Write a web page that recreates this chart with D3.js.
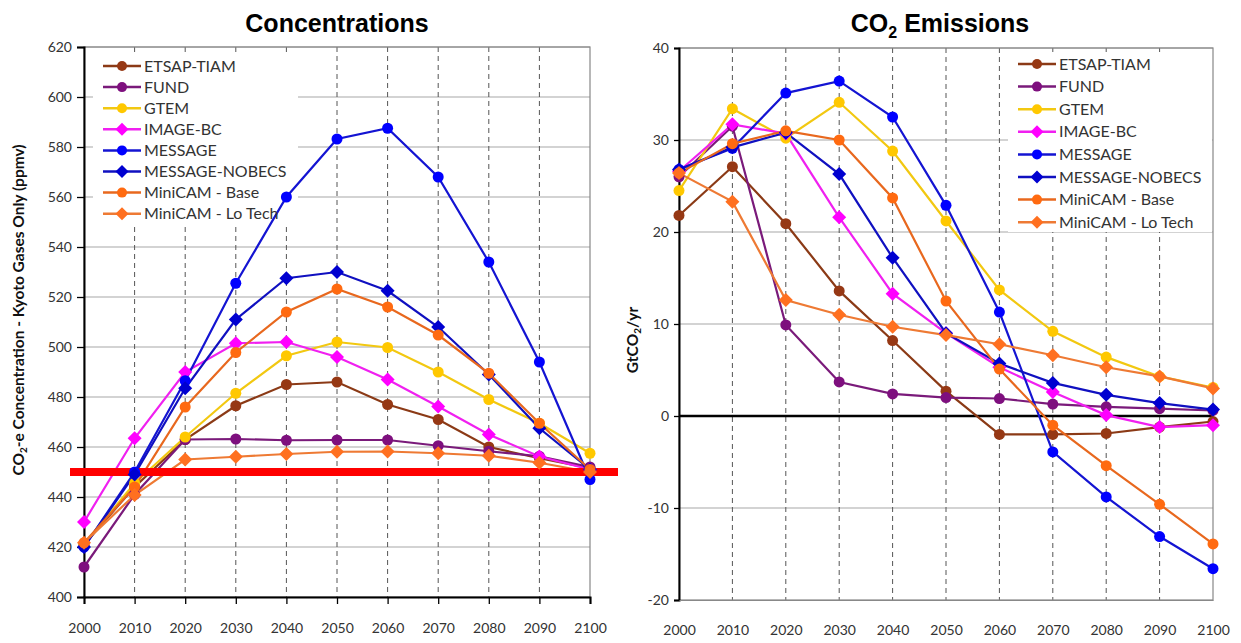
<!DOCTYPE html>
<html>
<head>
<meta charset="utf-8">
<script src="https://cdn.jsdelivr.net/npm/d3@7"></script>
<style>
  body { margin: 0; background: #fff; }
  text { font-family: Lato, "DejaVu Sans", sans-serif; }
</style>
</head>
<body>
<script>
// decades on the x axis
var years = [2000, 2010, 2020, 2030, 2040, 2050, 2060, 2070, 2080, 2090, 2100];

var models = ["ETSAP-TIAM", "FUND", "GTEM", "IMAGE-BC", "MESSAGE", "MESSAGE-NOBECS", "MiniCAM - Base", "MiniCAM - Lo Tech"];

// CO2-e concentrations (ppmv)
var concETSAP   = [421, 444, 463, 476.5, 485, 486, 477, 471, 460, 455.5, 451.5];
var concFUND    = [412, 441, 463, 463.2, 462.7, 462.8, 462.8, 460.5, 458.3, 456.3, 452];
var concGTEM    = [421, 445.5, 464, 481.5, 496.5, 502, 499.8, 490, 479, 469.5, 457.5];
var concIMAGE   = [430, 463.5, 490, 501.5, 502, 496, 487, 476.2, 465, 456.2, 451];
var concMESSAGE = [420, 450, 486.5, 525.5, 560, 583.2, 587.5, 568, 534, 494, 447];
var concNOBECS  = [420, 449, 483.5, 511, 527.5, 530, 522.5, 508, 489, 467.5, 451];
var concMiniB   = [421.7, 444, 476, 497.8, 514, 523.2, 516, 504.8, 489.5, 469.5, 451];
var concMiniLT  = [421.7, 440.8, 455, 456.1, 457.2, 458.1, 458.2, 457.5, 456.5, 453.7, 450];

// CO2 emissions (GtCO2/yr)
var emisETSAP   = [21.8, 27.1, 20.9, 13.6, 8.2, 2.7, -2.0, -2.0, -1.9, -1.2, -0.6];
var emisFUND    = [26.0, 31.5, 9.9, 3.7, 2.4, 2.0, 1.9, 1.3, 1.0, 0.8, 0.6];
var emisGTEM    = [24.5, 33.4, 30.2, 34.1, 28.8, 21.2, 13.7, 9.2, 6.4, 4.3, 3.1];
var emisIMAGE   = [26.6, 31.7, 30.7, 21.6, 13.3, 9.0, 5.3, 2.6, 0.1, -1.2, -1.0];
var emisMESSAGE = [26.8, 29.1, 35.1, 36.4, 32.5, 22.9, 11.3, -3.9, -8.8, -13.1, -16.6];
var emisNOBECS  = [26.8, 29.2, 30.8, 26.3, 17.2, 9.0, 5.7, 3.6, 2.3, 1.4, 0.7];
var emisMiniB   = [26.4, 29.6, 31.0, 30.0, 23.7, 12.5, 5.1, -1.0, -5.4, -9.6, -13.9];
var emisMiniLT  = [26.4, 23.3, 12.6, 11.0, 9.7, 8.8, 7.8, 6.6, 5.3, 4.3, 3.0];

var concTicks = [400, 420, 440, 460, 480, 500, 520, 540, 560, 580, 600, 620];
var emisTicks = [-20, -10, 0, 10, 20, 30, 40];
var targetConc = 450;

var lineColors   = ["#8b3a16", "#7a1a7a", "#f2c811", "#f020f0", "#1414d2", "#1010c0", "#e8681e", "#ee7a34"];
var markerColors = ["#963814", "#7e0f7e", "#ffc800", "#ff00ff", "#0000ff", "#0000d0", "#ff6a10", "#ff7020"];
var markerShapes = ["circle", "circle", "circle", "diamond", "circle", "diamond", "circle", "diamond"];

var concSeries = [concETSAP, concFUND, concGTEM, concIMAGE, concMESSAGE, concNOBECS, concMiniB, concMiniLT];
var emisSeries = [emisETSAP, emisFUND, emisGTEM, emisIMAGE, emisMESSAGE, emisNOBECS, emisMiniB, emisMiniLT];

var width = 1241, height = 643;
var svg = d3.select("body").append("svg")
    .attr("width", width)
    .attr("height", height);

function drawMarker(g, shape, x, y, color, size) {
    if (shape == "circle") {
        g.append("circle").attr("cx", x).attr("cy", y).attr("r", size).attr("fill", color);
    } else {
        let s = size + 1.5;
        g.append("path")
            .attr("d", `M${x},${y - s}L${x + s},${y}L${x},${y + s}L${x - s},${y}Z`)
            .attr("fill", color);
    }
}

function drawPanel(opts) {
    let x = d3.scaleLinear().domain([2000, 2100]).range([opts.left, opts.right]);
    let y = d3.scaleLinear().domain(opts.domain).range([opts.bottom, opts.top]);
    let g = svg.append("g");

    // horizontal grid
    g.append("g").selectAll("line")
        .data(opts.ticks.filter(t => t != opts.domain[0]))
        .join("line")
        .attr("x1", opts.left).attr("x2", opts.right)
        .attr("y1", d => y(d)).attr("y2", d => y(d))
        .attr("stroke", "#a8a8a8").attr("stroke-width", 1.2);

    // vertical dashed grid
    g.append("g").selectAll("line")
        .data(years.slice(1, -1))
        .join("line")
        .attr("x1", d => x(d)).attr("x2", d => x(d))
        .attr("y1", opts.top).attr("y2", opts.bottom)
        .attr("stroke", "#555").attr("stroke-width", 1)
        .attr("stroke-dasharray", "5,4");

    // frame
    g.append("rect")
        .attr("x", opts.left).attr("y", opts.top)
        .attr("width", opts.right - opts.left).attr("height", opts.bottom - opts.top)
        .attr("fill", "none").attr("stroke", "#888").attr("stroke-width", 1.2);

    // legend background hides the grid under it
    g.append("rect")
        .attr("x", opts.legend.x - 10).attr("y", opts.legend.y - 12)
        .attr("width", opts.legend.w).attr("height", opts.legend.h)
        .attr("fill", "#fff");

    if (opts.zero) {
        g.append("line")
            .attr("x1", opts.left).attr("x2", opts.right)
            .attr("y1", y(0)).attr("y2", y(0))
            .attr("stroke", "#000").attr("stroke-width", 2.6);
    }

    // y axis
    let yAxis = d3.axisLeft(y).tickValues(opts.ticks).tickSize(opts.yTick).tickPadding(5).tickFormat(d => String(d));
    let ya = g.append("g").attr("transform", `translate(${opts.left},0)`).call(yAxis);
    ya.select(".domain").attr("stroke", "#000").attr("stroke-width", 2);
    ya.selectAll(".tick line").attr("stroke", "#000").attr("stroke-width", 1.3);
    ya.selectAll("text").attr("font-size", 14).attr("fill", "#333");

    // x axis
    let xAxis = d3.axisBottom(x).tickValues(years).tickSize(opts.xTick).tickPadding(opts.xPad).tickFormat(d => String(d));
    let xa = g.append("g").attr("transform", `translate(0,${opts.bottom})`).call(xAxis);
    xa.select(".domain").attr("stroke", opts.xColor).attr("stroke-width", opts.xWidth);
    xa.selectAll(".tick line").attr("stroke", "#000").attr("stroke-width", 1.3);
    xa.selectAll("text").attr("font-size", 14).attr("fill", "#333");

    let line = d3.line().x((d, i) => x(years[i])).y(d => y(d));

    let lines = g.append("g");
    opts.series.forEach((s, k) => {
        lines.append("path")
            .attr("d", line(s))
            .attr("fill", "none")
            .attr("stroke", lineColors[k])
            .attr("stroke-width", 2.2);
    });

    if (opts.target !== undefined) {
        g.append("line")
            .attr("x1", opts.targetX[0]).attr("x2", opts.targetX[1])
            .attr("y1", y(opts.target)).attr("y2", y(opts.target))
            .attr("stroke", "#ff0000").attr("stroke-width", 8);
    }

    let marks = g.append("g");
    opts.series.forEach((s, k) => {
        s.forEach((v, i) => drawMarker(marks, markerShapes[k], x(years[i]), y(v), markerColors[k], 5.5));
    });

    // legend
    let lg = g.append("g");
    models.forEach((m, k) => {
        let ly = opts.legend.y + k * opts.legend.step;
        lg.append("line")
            .attr("x1", opts.legend.x).attr("x2", opts.legend.x + 38)
            .attr("y1", ly).attr("y2", ly)
            .attr("stroke", lineColors[k]).attr("stroke-width", 2.5);
        drawMarker(lg, markerShapes[k], opts.legend.x + 19, ly, markerColors[k], 5);
        lg.append("text")
            .attr("x", opts.legend.x + 41).attr("y", ly + 5.5)
            .attr("font-size", 16).attr("fill", "#333")
            .text(m);
    });

    return g;
}

drawPanel({
    left: 84, right: 590, top: 47, bottom: 597,
    domain: [400, 620], ticks: concTicks,
    series: concSeries,
    yTick: 7, xTick: 7, xPad: 19, xColor: "#000", xWidth: 2,
    legend: { x: 103, y: 66, step: 21.1, w: 205, h: 170 },
    target: targetConc, targetX: [70, 618]
});

drawPanel({
    left: 679, right: 1213, top: 48, bottom: 600,
    domain: [-20, 40], ticks: emisTicks,
    series: emisSeries,
    yTick: 5, xTick: 0, xPad: 25, xColor: "#888", xWidth: 1.2,
    legend: { x: 1018, y: 64, step: 22.6, w: 204, h: 180 },
    zero: true
});

// titles
svg.append("text")
    .attr("x", 337).attr("y", 32)
    .attr("text-anchor", "middle")
    .attr("font-weight", "bold").attr("font-size", 25)
    .style("font-family", "'Liberation Sans', Arial, sans-serif")
    .text("Concentrations");

let t2 = svg.append("text")
    .attr("x", 940).attr("y", 32)
    .attr("text-anchor", "middle")
    .attr("font-weight", "bold").attr("font-size", 25)
    .style("font-family", "'Liberation Sans', Arial, sans-serif");
t2.append("tspan").text("CO");
t2.append("tspan").attr("font-size", 16).attr("dy", 6).text("2");
t2.append("tspan").attr("dy", -6).text(" Emissions");

// y axis labels
let yl = svg.append("text")
    .attr("transform", "translate(24,310) rotate(-90)")
    .attr("text-anchor", "middle")
    .attr("font-weight", "bold").attr("font-size", 15.5).attr("fill", "#111");
yl.append("tspan").text("CO");
yl.append("tspan").attr("font-size", 10).attr("dy", 3).text("2");
yl.append("tspan").attr("dy", -3).text("-e Concentration - Kyoto Gases Only (ppmv)");

let yr = svg.append("text")
    .attr("transform", "translate(638,340) rotate(-90)")
    .attr("text-anchor", "middle")
    .attr("font-weight", "bold").attr("font-size", 15.5).attr("fill", "#111");
yr.append("tspan").text("GtCO");
yr.append("tspan").attr("font-size", 10).attr("dy", 3).text("2");
yr.append("tspan").attr("dy", -3).text("/yr");
</script>
</body>
</html>
